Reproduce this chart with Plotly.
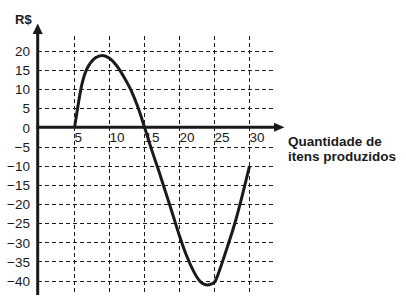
import plotly.graph_objects as go

# Data (profit in R$ vs quantity produced)
qty = [5, 5.5, 6, 6.5, 7, 8, 9, 10, 11, 12, 13, 14, 15, 16, 17, 18, 19, 20,
       21, 22, 22.5, 23, 23.5, 24, 24.5, 25, 25.5, 26, 27, 28, 29, 30]
profit = [0, 5.8, 10.9, 14.2, 16.2, 18.3, 18.9, 18.2, 16.3, 13.5, 10.1, 5.7, 0.2,
          -5.6, -11.0, -16.7, -22.4, -28.2, -33.3, -37.4, -39.0, -40.2, -40.8,
          -41.0, -40.8, -40.3, -38.3, -35.7, -30.2, -24.3, -17.4, -10.0]
x_ticks = [5, 10, 15, 20, 25, 30]
y_ticks = [20, 15, 10, 5, 0, -5, -10, -15, -20, -25, -30, -35, -40]
x_title = ["Quantidade de", "itens produzidos"]
y_title = "R$"

INK = "#1a1a1a"
FONT = "Liberation Sans, Arial, sans-serif"

# plot-area geometry (pixels)
L, T, W, H = 38, 36, 237, 259
def px(xpx):
    return (xpx - L) / W
def py(ypx):
    return (T + H - ypx) / H

fig = go.Figure()
fig.add_trace(go.Scatter(
    x=qty, y=profit, mode="lines",
    line=dict(color=INK, width=3, shape="spline", smoothing=0.8),
    hoverinfo="skip", showlegend=False,
))

y0_px = 127.9
fig.update_layout(
    width=406, height=300,
    margin=dict(l=L, r=406 - L - W, t=T, b=300 - T - H),
    paper_bgcolor="white", plot_bgcolor="white",
    font=dict(family=FONT, size=13, color=INK),
    xaxis=dict(
        range=[-1.5 / 7.0, (L + W - 39.5) / 7.0],
        tickvals=x_ticks, ticktext=[str(v) for v in x_ticks],
        showgrid=True, gridcolor=INK, gridwidth=1, griddash="4px,3px",
        zeroline=False, showline=False, ticks="",
        anchor="free", position=py(y0_px),
        ticklabelposition="outside right",
        tickfont=dict(size=13.5, family=FONT, color=INK),
        fixedrange=True,
    ),
    yaxis=dict(
        range=[(y0_px - (T + H)) / 3.83, (y0_px - T) / 3.83],
        tickvals=y_ticks,
        showgrid=True, gridcolor=INK, gridwidth=1, griddash="4px,3px",
        zeroline=False, showline=False, ticks="",
        ticklabelstandoff=7,
        tickfont=dict(size=13.5, family=FONT, color=INK),
        fixedrange=True,
    ),
)

# axis lines with arrow heads (paper coordinates)
ax_y = 37.7
fig.add_shape(type="line", xref="paper", yref="paper",
              x0=px(ax_y), x1=px(ax_y), y0=py(295), y1=py(33),
              line=dict(color=INK, width=3))
fig.add_shape(type="path", xref="paper", yref="paper",
              path=f"M {px(ax_y)} {py(23.5)} L {px(ax_y - 5)} {py(34)} L {px(ax_y + 5)} {py(34)} Z",
              fillcolor=INK, line=dict(color=INK, width=0))
ax_x = 127.3
fig.add_shape(type="line", xref="paper", yref="paper",
              x0=px(36.5), x1=px(276), y0=py(ax_x), y1=py(ax_x),
              line=dict(color=INK, width=3))
fig.add_shape(type="path", xref="paper", yref="paper",
              path=f"M {px(284.5)} {py(ax_x)} L {px(274)} {py(ax_x - 4.5)} L {px(274)} {py(ax_x + 4.5)} Z",
              fillcolor=INK, line=dict(color=INK, width=0))

# titles
fig.add_annotation(xref="paper", yref="paper", x=px(23.5), y=py(19.5),
                   text=f"<b>{y_title}</b>", showarrow=False,
                   xanchor="center", yanchor="middle",
                   font=dict(size=13, family=FONT, color=INK))
fig.add_annotation(xref="paper", yref="paper", x=px(286), y=py(141.5),
                   text=f"<b>{x_title[0]}</b>", showarrow=False,
                   xanchor="left", yanchor="middle",
                   font=dict(size=13.5, family=FONT, color=INK))
fig.add_annotation(xref="paper", yref="paper", x=px(286), y=py(156.5),
                   text=f"<b>{x_title[1]}</b>", showarrow=False,
                   xanchor="left", yanchor="middle",
                   font=dict(size=13.5, family=FONT, color=INK))

fig.write_html("out.html")
